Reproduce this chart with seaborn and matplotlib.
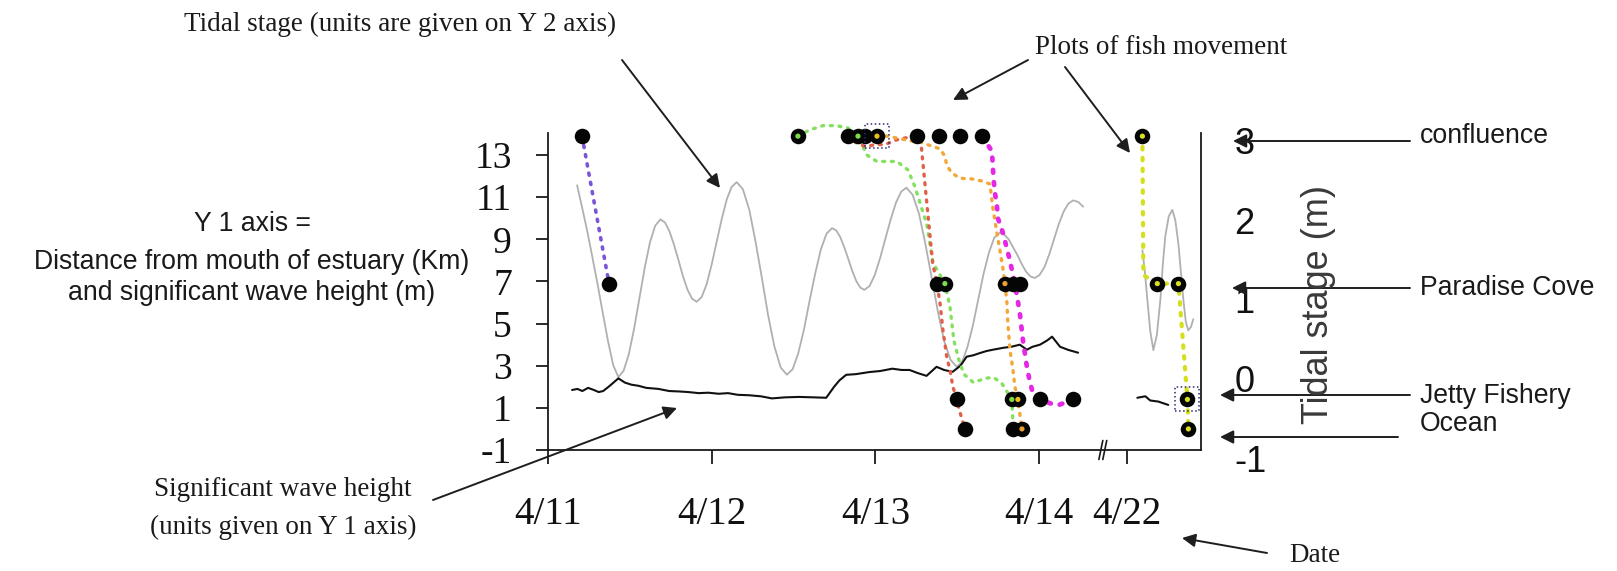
import matplotlib
matplotlib.use("Agg")
import matplotlib.pyplot as plt
import matplotlib.transforms as mtransforms
import seaborn as sns
import pandas as pd

W, H = 1617, 571

# ---------------- data ----------------
DATE_LABELS = ['4/11', '4/12', '4/13', '4/14', '4/22']
DATE_POS = [0, 1, 2, 3, 3.54]          # broken axis: 4/22 follows 4/14
X_APR22 = 3.54
X_MAX = 3.99
BREAK_X = 3.39

Y1_TICKS = [-1, 1, 3, 5, 7, 9, 11, 13]
Y2_TICKS = [-1, 0, 1, 2, 3]

# tidal stage (m), days after 4/11 00:00
tide_t = [0.178, 0.2095, 0.241, 0.2725, 0.304, 0.3355, 0.367, 0.3985,
          0.43, 0.462, 0.494, 0.526, 0.559, 0.591, 0.623, 0.655,
          0.687, 0.715, 0.742, 0.770, 0.798, 0.825, 0.853, 0.880,
          0.908, 0.939, 0.969, 1.000, 1.031, 1.061, 1.092, 1.122,
          1.153, 1.191, 1.230, 1.268, 1.307, 1.345, 1.383, 1.422,
          1.46, 1.495, 1.529, 1.564, 1.598, 1.633, 1.667, 1.702,
          1.736, 1.761, 1.785, 1.810, 1.835, 1.859, 1.884, 1.908,
          1.933, 1.965, 1.997, 2.029, 2.062, 2.094, 2.126, 2.158,
          2.19, 2.228, 2.267, 2.305, 2.344, 2.382, 2.42, 2.459,
          2.497, 2.530, 2.563, 2.596, 2.629, 2.661, 2.694, 2.727,
          2.76, 2.787, 2.814, 2.841, 2.868, 2.894, 2.921, 2.948,
          2.975, 3.004, 3.034, 3.063, 3.092, 3.121, 3.151, 3.18,
          3.209, 3.24, 3.27]
tide_v = [2.34, 2.05, 1.75, 1.42, 1.08, 0.72, 0.37, 0.07,
          -0.08, 0.00, 0.21, 0.53, 0.92, 1.30, 1.62, 1.83,
          1.91, 1.87, 1.76, 1.59, 1.39, 1.19, 1.02, 0.91,
          0.87, 0.93, 1.09, 1.34, 1.63, 1.91, 2.16, 2.32,
          2.38, 2.29, 2.03, 1.63, 1.17, 0.70, 0.31, 0.04,
          -0.05, 0.02, 0.22, 0.52, 0.88, 1.23, 1.53, 1.73,
          1.80, 1.77, 1.69, 1.56, 1.41, 1.26, 1.13, 1.05,
          1.02, 1.07, 1.21, 1.42, 1.67, 1.91, 2.12, 2.26,
          2.31, 2.22, 1.98, 1.61, 1.18, 0.75, 0.38, 0.14,
          0.05, 0.11, 0.30, 0.57, 0.90, 1.22, 1.49, 1.68,
          1.74, 1.72, 1.66, 1.56, 1.46, 1.35, 1.25, 1.19,
          1.17, 1.21, 1.31, 1.47, 1.66, 1.85, 2.01, 2.11,
          2.15, 2.13, 2.07]
# tidal stage on 4/22 (days after 4/22 00:00)
tide22_t = [0.092, 0.107, 0.122, 0.14, 0.159, 0.18, 0.202, 0.217, 0.232, 0.253,
            0.275, 0.293, 0.312, 0.327, 0.342, 0.357, 0.372, 0.388, 0.403]
tide22_v = [1.52, 1.25, 0.90, 0.50, 0.26, 0.45, 0.90, 1.35, 1.70, 1.95,
            2.03, 1.90, 1.60, 1.25, 0.90, 0.62, 0.51, 0.55, 0.65]

# significant wave height (m)
wave_t = [0.147, 0.18, 0.21, 0.245, 0.28, 0.31, 0.337, 0.37, 0.40, 0.43, 0.47, 0.51, 0.552,
          0.60, 0.675, 0.74, 0.80, 0.859, 0.92, 0.98, 1.043, 1.10, 1.16, 1.227, 1.30, 1.368,
          1.45, 1.534, 1.62, 1.70, 1.748, 1.78, 1.822, 1.88, 1.963, 2.03, 2.104, 2.16, 2.209,
          2.26, 2.313, 2.374, 2.42, 2.472, 2.52, 2.558, 2.60, 2.638, 2.68, 2.718, 2.78, 2.83,
          2.883, 2.926, 2.96, 3.006, 3.05, 3.08, 3.129, 3.18, 3.239]
wave_v = [1.85, 1.9, 1.8, 1.95, 1.85, 1.75, 1.8, 2.0, 2.2, 2.4, 2.2, 2.1, 2.05,
          1.95, 1.9, 1.8, 1.78, 1.75, 1.7, 1.72, 1.67, 1.7, 1.62, 1.6, 1.55, 1.45,
          1.5, 1.52, 1.5, 1.48, 2.0, 2.3, 2.57, 2.6, 2.7, 2.75, 2.86, 2.8, 2.8,
          2.65, 2.52, 2.95, 2.8, 2.71, 3.0, 3.43, 3.5, 3.6, 3.7, 3.76, 3.85, 3.9,
          4.0, 3.76, 3.9, 4.0, 4.2, 4.38, 3.9, 3.75, 3.62]
wave22_t = [0.061, 0.11, 0.14, 0.189, 0.25]
wave22_v = [1.48, 1.55, 1.35, 1.30, 1.14]

# fish tracks: distance from mouth (km)
purple_t = [0.208, 0.373]
purple_d = [13.9, 6.9]
green_t = [1.527, 1.60, 1.68, 1.76, 1.83, 1.894, 1.949, 2.01, 2.07, 2.132, 2.199, 2.242, 2.315, 2.352,
           2.425, 2.443, 2.456, 2.48, 2.51, 2.541, 2.60, 2.67, 2.72, 2.77, 2.81, 2.834, 2.838, 2.841]
green_d = [13.9, 14.2, 14.4, 14.4, 14.3, 13.9, 13.0, 12.7, 12.7, 12.7, 12.3, 11.5, 9.7, 7.9,
           6.9, 6.3, 5.8, 4.2, 3.3, 2.6, 2.2, 2.4, 2.45, 2.2, 1.7, 1.4, 0.8, 0]
red_t = [1.833, 1.88, 1.94, 2.0, 2.06, 2.12, 2.17, 2.254, 2.28, 2.33, 2.35, 2.376, 2.395, 2.413,
         2.437, 2.456, 2.474, 2.498, 2.517, 2.547]
red_d = [13.9, 13.6, 13.4, 13.5, 13.5, 13.7, 13.8, 13.9, 13.5, 9.5, 7.9, 6.9, 6.0, 4.7,
         3.4, 2.8, 2.0, 1.4, 0.8, 0]
orange_t = [2.01, 2.071, 2.138, 2.199, 2.279, 2.395, 2.425, 2.437, 2.468, 2.517, 2.59, 2.651, 2.70,
            2.718, 2.743, 2.761, 2.78, 2.792, 2.804, 2.81, 2.822, 2.841, 2.853, 2.871, 2.885, 2.896]
orange_d = [13.9, 13.9, 13.8, 13.7, 13.6, 13.3, 12.95, 12.5, 12.15, 11.9, 11.87, 11.77, 11.63,
            10.5, 9.3, 8.5, 7.6, 6.9, 6.0, 5.0, 3.8, 2.8, 2.0, 1.4, 0.6, 0]
magenta_t = [2.651, 2.712, 2.718, 2.722, 2.731, 2.743, 2.749, 2.78, 2.822, 2.853, 2.883, 2.902,
             2.926, 2.944, 2.963, 3.006, 3.109, 3.207]
magenta_d = [13.9, 13.2, 12.5, 11.9, 11.2, 10.6, 10.0, 9.3, 8.0, 6.9, 5.5, 4.2,
             2.95, 2.24, 1.7, 1.4, 1.1, 1.4]
yellow22_t = [0.092, 0.098, 0.183, 0.312, 0.367, 0.373]
yellow22_d = [13.9, 7.3, 6.9, 6.9, 1.4, 0]

# detections (receiver hits)
det_t = [0.208, 0.373, 1.527, 1.833, 1.894, 1.937, 2.010, 2.254, 2.389, 2.517, 2.651,
         2.376, 2.425, 2.792, 2.841, 2.883, 2.498, 2.834, 2.871, 3.006, 3.207, 2.547, 2.841, 2.896]
det_d = [13.9, 6.9, 13.9, 13.9, 13.9, 13.9, 13.9, 13.9, 13.9, 13.9, 13.9,
         6.9, 6.9, 6.9, 6.9, 6.9, 1.4, 1.4, 1.4, 1.4, 1.4, 0, 0, 0]
det_c = ['none', 'none', 'green', 'none', 'green', 'none', 'gold', 'none', 'none', 'none', 'none',
         'none', 'green', 'orange', 'none', 'none', 'none', 'green', 'gold', 'none', 'none',
         'none', 'none', 'orange']
det22_t = [0.092, 0.183, 0.312, 0.367, 0.373]
det22_d = [13.9, 6.9, 6.9, 1.4, 0]
boxed_t = [2.010]
boxed_d = [13.9]
boxed22_t = [0.367]
boxed22_d = [1.4]

CENTER_COLORS = {'green': '#7ddc4a', 'gold': '#e8c020', 'orange': '#f0a030', 'yellow': '#d8e020'}

# ---------------- figure ----------------
sns.set_theme(style='white')
plt.rcParams['font.family'] = ['Liberation Serif', 'DejaVu Serif']
SANS = ['Liberation Sans', 'DejaVu Sans']

fig = plt.figure(figsize=(W / 100, H / 100), dpi=100)
ax1 = fig.add_axes([548 / W, 1 - 450 / H, (1201 - 548) / W, (450 - 133) / H])
ax2 = ax1.twinx()
ax1.set_zorder(ax2.get_zorder() + 1)
ax1.patch.set_visible(False)

# tidal stage (right axis)
sns.lineplot(x=tide_t, y=tide_v, ax=ax2, color='#b0b0b0', linewidth=1.3,
             estimator=None, sort=False)
sns.lineplot(x=[X_APR22 + t for t in tide22_t], y=tide22_v, ax=ax2, color='#b0b0b0',
             linewidth=1.3, estimator=None, sort=False)

# wave height (left axis)
sns.lineplot(x=wave_t, y=wave_v, ax=ax1, color='#111111', linewidth=1.5,
             estimator=None, sort=False)
sns.lineplot(x=[X_APR22 + t for t in wave22_t], y=wave22_v, ax=ax1, color='#111111',
             linewidth=1.5, estimator=None, sort=False)

# fish tracks
tracks = [
    (purple_t, purple_d, '#7b55d8', 2.6),
    (green_t, green_d, '#86e060', 2.4),
    (red_t, red_d, '#e0604a', 2.4),
    (orange_t, orange_d, '#f2a838', 2.4),
    (magenta_t, magenta_d, '#e428e4', 3.4),
    ([X_APR22 + t for t in yellow22_t], yellow22_d, '#d4e01c', 3.0),
]
for tx, ty, col, lw in tracks:
    sns.lineplot(x=tx, y=ty, ax=ax1, color=col, linewidth=lw, estimator=None, sort=False,
                 linestyle=(0, (0.6, 2.0)), dash_capstyle='round', clip_on=False)

# detection dots
dots = pd.DataFrame({'t': det_t + [X_APR22 + t for t in det22_t],
                     'd': det_d + det22_d,
                     'c': det_c + ['yellow'] * len(det22_t)})
sns.scatterplot(data=dots, x='t', y='d', ax=ax1, color='#050505', s=125, linewidth=0,
                clip_on=False, zorder=5, legend=False)
centers = dots[dots['c'] != 'none']
sns.scatterplot(data=centers, x='t', y='d', hue='c', palette=CENTER_COLORS, ax=ax1, s=14,
                linewidth=0, clip_on=False, zorder=6, legend=False)
boxes = pd.DataFrame({'t': boxed_t + [X_APR22 + t for t in boxed22_t],
                      'd': boxed_d + boxed22_d})
sns.scatterplot(data=boxes, x='t', y='d', ax=ax1, marker='s', s=300, facecolors='none',
                edgecolors='#2a2a70', linewidth=1.1, linestyle=':', clip_on=False,
                zorder=7, legend=False)

# axes setup
ax1.set_xlim(0, X_MAX)
ax1.set_ylim(-1, 14.05)
ax2.set_ylim(-1, 3)
ax1.set_xlabel('')
ax1.set_ylabel('')
ax2.set_ylabel('')
ax1.grid(False)
ax2.grid(False)

for sp in ['top', 'right']:
    ax1.spines[sp].set_visible(False)
for sp in ['top', 'left', 'bottom']:
    ax2.spines[sp].set_visible(False)
for sp in [ax1.spines['left'], ax1.spines['bottom'], ax2.spines['right']]:
    sp.set_color('#1a1a1a')
    sp.set_linewidth(1.3)

ax1.set_xticks(DATE_POS)
ax1.set_xticklabels(DATE_LABELS)
ax1.set_yticks(Y1_TICKS)
ax1.set_yticklabels([str(v) for v in Y1_TICKS])
ax1.tick_params(axis='x', direction='out', length=10, width=1.3, color='#1a1a1a',
                labelsize=28, pad=23, bottom=True)
ax1.tick_params(axis='y', direction='out', length=9, width=1.3, color='#1a1a1a',
                labelsize=27, pad=17, left=True)
for lab in ax1.get_xticklabels() + ax1.get_yticklabels():
    lab.set_fontfamily(['Liberation Serif'])
    lab.set_color('#111111')

ax2.set_yticks(Y2_TICKS)
ax2.set_yticklabels([str(v) for v in Y2_TICKS])
ax2.set_yticks([-1, 3], minor=True)
ax2.tick_params(axis='y', which='major', length=0, labelsize=26, pad=24, right=True)
ax2.tick_params(axis='y', which='minor', direction='inout', length=17, width=1.3,
                color='#1a1a1a', right=True)
shift_down = mtransforms.ScaledTranslation(0, -0.08, fig.dpi_scale_trans)
for lab in ax2.get_yticklabels():
    lab.set_fontfamily(SANS)
    lab.set_color('#111111')
    lab.set_transform(lab.get_transform() + shift_down)

# axis break mark
for dx in (-0.012, 0.012):
    ax1.plot([BREAK_X + dx - 0.012, BREAK_X + dx + 0.012], [-0.03, 0.03],
             transform=ax1.get_xaxis_transform(), color='#1a1a1a', lw=1.2, clip_on=False)


# ---------------- annotations ----------------
def P(x, y):
    return (x, H - y)


def ftext(x, y, s, **kw):
    fig.text(x / W, 1 - y / H, s, **kw)


def arrow(tail, head):
    ax1.annotate('', xy=P(*head), xytext=P(*tail), xycoords='figure pixels',
                 textcoords='figure pixels',
                 arrowprops=dict(arrowstyle='-|>', color='#1e1e1e', lw=1.4,
                                 mutation_scale=20, shrinkA=0, shrinkB=0))


SERIF_KW = dict(family=['Liberation Serif'], color='#1a1a1a', fontsize=19.5)
SANS_KW = dict(family=SANS, color='#1a1a1a', fontsize=19.2)

ftext(400, 24, 'Tidal stage (units are given on Y 2 axis)', ha='center', va='center', **SERIF_KW)
arrow((622, 60), (720, 188))

ftext(1035, 48, 'Plots of fish movement', ha='left', va='center', **SERIF_KW)
arrow((1028, 60), (953, 100))
arrow((1065, 67), (1130, 153))

ftext(252, 224, 'Y 1 axis =', ha='center', va='center', **SANS_KW)
ftext(252, 262, 'Distance from mouth of estuary (Km)', ha='center', va='center', **SANS_KW)
ftext(252, 293, 'and significant wave height (m)', ha='center', va='center', **SANS_KW)

ftext(283, 490, 'Significant wave height', ha='center', va='center', **SERIF_KW)
ftext(283, 527, '(units given on Y 1 axis)', ha='center', va='center', **SERIF_KW)
arrow((433, 500), (677, 408))

ftext(1315, 555, 'Date', ha='center', va='center', **SERIF_KW)
arrow((1267, 553), (1182, 538))

ftext(1318, 305, 'Tidal stage (m)', ha='center', va='center', rotation=90,
      family=SANS, color='#3a3a3a', fontsize=26)

ftext(1420, 136, 'confluence', ha='left', va='center', **SANS_KW)
arrow((1410, 141), (1233, 141))
ftext(1420, 288, 'Paradise Cove', ha='left', va='center', **SANS_KW)
arrow((1410, 288), (1232, 288))
ftext(1420, 396, 'Jetty Fishery', ha='left', va='center', **SANS_KW)
arrow((1410, 395), (1220, 395))
ftext(1420, 424, 'Ocean', ha='left', va='center', **SANS_KW)
arrow((1398, 437), (1220, 437))

fig.savefig('out.png', dpi=100)
